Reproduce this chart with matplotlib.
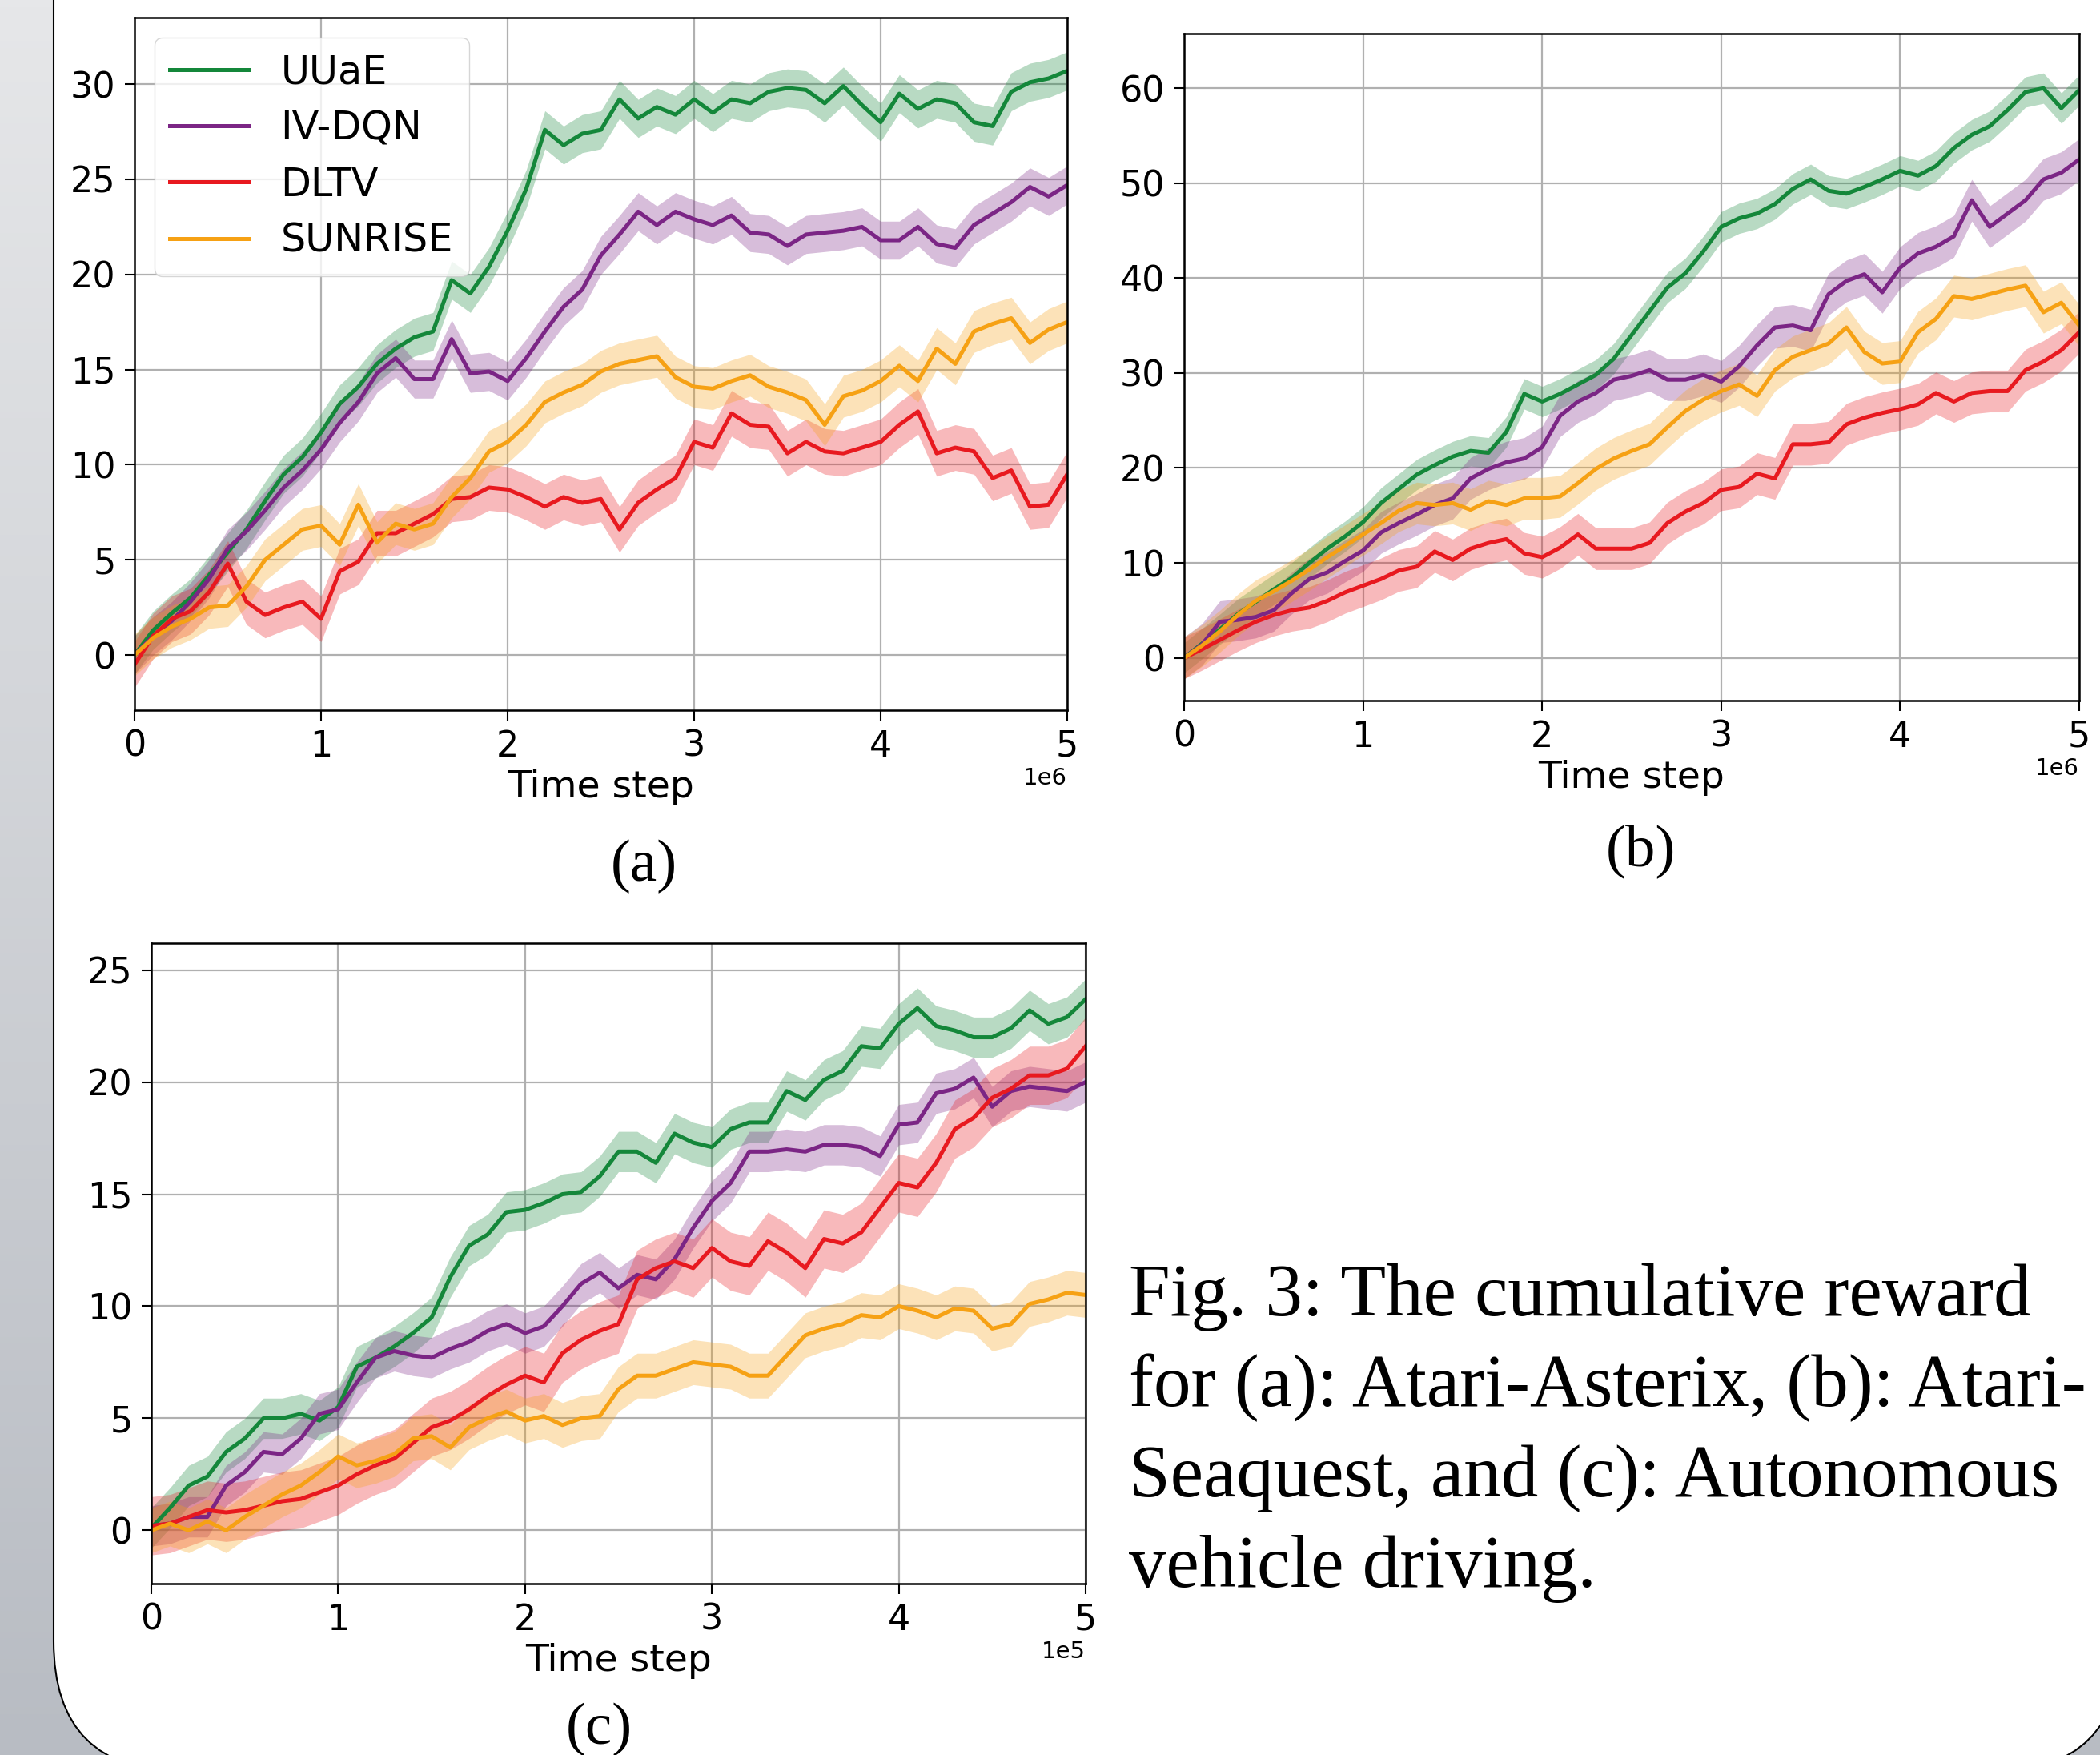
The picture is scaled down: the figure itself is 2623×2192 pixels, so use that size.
import numpy as np
import matplotlib
matplotlib.use("Agg")
import matplotlib.pyplot as plt
from matplotlib.patches import FancyBboxPatch
from matplotlib.colors import LinearSegmentedColormap

# ---------------- data ----------------
methods = ["UUaE", "IV-DQN", "DLTV", "SUNRISE"]
colors = ["#14873a", "#7b2585", "#e8191f", "#f6a114"]

steps_ab = np.linspace(0, 5e6, 51)
steps_c = np.linspace(0, 5e5, 51)

# (a) Atari-Asterix
uuae_a = [0.0, 1.3, 2.2, 3.0, 4.2, 5.4, 6.6, 8.1, 9.5, 10.4, 11.7, 13.2, 14.1, 15.3, 16.1, 16.7, 17.0,
          19.7, 19.0, 20.4, 22.3, 24.5, 27.6, 26.8, 27.4, 27.6, 29.2, 28.2, 28.8, 28.4, 29.2, 28.5, 29.2,
          29.0, 29.6, 29.8, 29.7, 29.0, 29.9, 28.9, 28.0, 29.5, 28.7, 29.2, 29.0, 28.0, 27.8, 29.6, 30.1,
          30.3, 30.7]
ivdqn_a = [0.0, 1.0, 1.8, 2.8, 4.0, 5.6, 6.5, 7.6, 8.8, 9.7, 10.8, 12.2, 13.3, 14.8, 15.6, 14.5, 14.5,
           16.6, 14.8, 14.9, 14.4, 15.6, 17.0, 18.3, 19.2, 21.0, 22.1, 23.3, 22.6, 23.3, 22.9, 22.6, 23.1,
           22.2, 22.1, 21.5, 22.1, 22.2, 22.3, 22.5, 21.8, 21.8, 22.5, 21.6, 21.4, 22.6, 23.2, 23.8, 24.6,
           24.1, 24.7]
dltv_a = [-0.5, 1.0, 1.9, 2.3, 3.3, 4.8, 2.8, 2.1, 2.5, 2.8, 1.9, 4.4, 4.9, 6.4, 6.4, 6.9, 7.4, 8.2,
          8.3, 8.8, 8.7, 8.3, 7.8, 8.3, 8.0, 8.2, 6.6, 8.0, 8.7, 9.3, 11.2, 10.9, 12.7, 12.1, 12.0, 10.6,
          11.2, 10.7, 10.6, 10.9, 11.2, 12.1, 12.8, 10.6, 10.9, 10.7, 9.3, 9.7, 7.8, 7.9, 9.5]
sunrise_a = [0.0, 0.9, 1.5, 1.9, 2.5, 2.6, 3.6, 5.0, 5.8, 6.6, 6.8, 5.8, 7.9, 5.9, 6.9, 6.6, 6.9, 8.3,
             9.3, 10.7, 11.2, 12.1, 13.3, 13.8, 14.2, 14.9, 15.3, 15.5, 15.7, 14.6, 14.1, 14.0, 14.4,
             14.7, 14.1, 13.8, 13.4, 12.1, 13.6, 13.9, 14.4, 15.2, 14.4, 16.1, 15.3, 17.0, 17.4, 17.7,
             16.4, 17.1, 17.5]
band_a = [1.0, 1.0, 1.2, 1.1]

# (b) Atari-Seaquest
uuae_b = [0.0, 1.5, 3.0, 4.6, 5.9, 7.2, 8.4, 10.0, 11.5, 12.8, 14.3, 16.3, 17.8, 19.3, 20.3, 21.2,
          21.8, 21.6, 23.8, 27.8, 27.0, 27.8, 28.8, 29.8, 31.5, 34.0, 36.5, 39.0, 40.5, 42.8, 45.4,
          46.3, 46.8, 47.8, 49.4, 50.4, 49.2, 48.9, 49.6, 50.4, 51.3, 50.8, 51.8, 53.7, 55.1, 56.0,
          57.7, 59.6, 60.0, 57.9, 59.8]
ivdqn_b = [0.0, 1.4, 3.8, 4.0, 4.3, 5.0, 6.8, 8.3, 9.0, 10.2, 11.3, 13.2, 14.2, 15.1, 16.1, 16.8,
           18.9, 19.9, 20.6, 21.0, 22.2, 25.5, 27.0, 27.9, 29.3, 29.7, 30.3, 29.3, 29.3, 29.8, 29.1,
           30.7, 32.9, 34.8, 35.0, 34.5, 38.3, 39.7, 40.4, 38.5, 41.1, 42.6, 43.3, 44.4, 48.2, 45.4,
           46.8, 48.2, 50.4, 51.1, 52.5]
dltv_b = [0.0, 0.9, 1.9, 2.9, 3.8, 4.5, 5.0, 5.3, 6.0, 6.9, 7.6, 8.3, 9.2, 9.6, 11.2, 10.3, 11.5,
          12.1, 12.5, 11.0, 10.6, 11.6, 13.0, 11.5, 11.5, 11.5, 12.1, 14.2, 15.4, 16.3, 17.7, 18.0,
          19.4, 18.9, 22.5, 22.5, 22.7, 24.6, 25.3, 25.8, 26.2, 26.7, 27.9, 27.0, 27.9, 28.1, 28.1,
          30.3, 31.2, 32.4, 34.3]
sunrise_b = [0.0, 1.3, 2.8, 4.5, 6.0, 7.0, 8.1, 9.3, 10.6, 11.8, 13.0, 14.2, 15.5, 16.3, 16.1, 16.3,
             15.6, 16.5, 16.1, 16.8, 16.8, 17.0, 18.4, 19.9, 21.0, 21.8, 22.5, 24.3, 26.0, 27.2, 28.1,
             28.8, 27.6, 30.3, 31.7, 32.4, 33.1, 34.8, 32.2, 31.0, 31.2, 34.3, 35.7, 38.1, 37.8, 38.3,
             38.8, 39.2, 36.4, 37.4, 35.0]
band_b = [1.6, 2.2, 2.2, 2.2]

# (c) Autonomous vehicle driving
uuae_c = [0.1, 1.0, 2.0, 2.4, 3.5, 4.1, 5.0, 5.0, 5.2, 4.9, 5.5, 7.3, 7.7, 8.2, 8.8, 9.5, 11.3, 12.7,
          13.2, 14.2, 14.3, 14.6, 15.0, 15.1, 15.8, 16.9, 16.9, 16.4, 17.7, 17.3, 17.1, 17.9, 18.2,
          18.2, 19.6, 19.2, 20.1, 20.5, 21.6, 21.5, 22.6, 23.3, 22.5, 22.3, 22.0, 22.0, 22.4, 23.2,
          22.6, 22.9, 23.7]
ivdqn_c = [0.2, 0.3, 0.6, 0.6, 2.0, 2.6, 3.5, 3.4, 4.1, 5.2, 5.4, 6.6, 7.7, 8.0, 7.8, 7.7, 8.1, 8.4,
           8.9, 9.2, 8.8, 9.1, 10.0, 11.0, 11.5, 10.8, 11.4, 11.2, 12.1, 13.5, 14.7, 15.5, 16.9, 16.9,
           17.0, 16.9, 17.2, 17.2, 17.1, 16.7, 18.1, 18.2, 19.5, 19.7, 20.2, 18.9, 19.6, 19.8, 19.7,
           19.6, 20.0]
dltv_c = [0.2, 0.3, 0.6, 0.9, 0.8, 0.9, 1.1, 1.3, 1.4, 1.7, 2.0, 2.5, 2.9, 3.2, 3.9, 4.6, 4.9, 5.4,
          6.0, 6.5, 6.9, 6.6, 7.9, 8.5, 8.9, 9.2, 11.2, 11.7, 12.0, 11.7, 12.6, 12.0, 11.8, 12.9, 12.4,
          11.7, 13.0, 12.8, 13.3, 14.4, 15.5, 15.3, 16.4, 17.9, 18.4, 19.3, 19.7, 20.3, 20.3, 20.6,
          21.6]
sunrise_c = [0.0, 0.3, 0.0, 0.4, 0.0, 0.6, 1.1, 1.6, 2.0, 2.6, 3.3, 2.9, 3.1, 3.4, 4.1, 4.2, 3.7,
             4.6, 5.0, 5.3, 4.9, 5.1, 4.7, 5.0, 5.1, 6.3, 6.9, 6.9, 7.2, 7.5, 7.4, 7.3, 6.9, 6.9, 7.8,
             8.7, 9.0, 9.2, 9.6, 9.5, 10.0, 9.8, 9.5, 9.9, 9.8, 9.0, 9.2, 10.1, 10.3, 10.6, 10.5]
band_c = [0.9, 0.9, 1.3, 1.0]

yticks_a = [0, 5, 10, 15, 20, 25, 30]
yticks_b = [0, 10, 20, 30, 40, 50, 60]
yticks_c = [0, 5, 10, 15, 20, 25]

caption = ["Fig. 3: The cumulative reward",
           "for (a): Atari-Asterix, (b): Atari-",
           "Seaquest, and (c): Autonomous",
           "vehicle driving."]

# ---------------- figure ----------------
W, H = 2623, 2192
fig = plt.figure(figsize=(W / 100, H / 100), dpi=100)

bg = fig.add_axes([0, 0, 1, 1], zorder=-5)
cmap = LinearSegmentedColormap.from_list("bg", ["#e6e7e9", "#b8bcc3"])
bg.imshow(np.linspace(0, 1, 256).reshape(-1, 1), aspect="auto", cmap=cmap,
          extent=[0, W, H, 0], zorder=0)
panel = FancyBboxPatch((67, -400), 2650 - 67, 2213 + 400,
                       boxstyle="round,pad=0,rounding_size=163",
                       fc="white", ec="black", lw=1.5, zorder=1)
bg.add_patch(panel)
bg.set_xlim(0, W)
bg.set_ylim(H, 0)
bg.axis("off")


def px_axes(x0, y0, x1, y1):
    return fig.add_axes([x0 / W, 1 - y1 / H, (x1 - x0) / W, (y1 - y0) / H])


ax_a = px_axes(168, 22, 1333, 887)
ax_b = px_axes(1479, 42, 2597, 875)
ax_c = px_axes(189, 1178, 1356, 1978)

panels = [
    (ax_a, steps_ab, [uuae_a, ivdqn_a, dltv_a, sunrise_a], band_a, (-2.9, 33.5), yticks_a),
    (ax_b, steps_ab, [uuae_b, ivdqn_b, dltv_b, sunrise_b], band_b, (-4.5, 65.75), yticks_b),
    (ax_c, steps_c, [uuae_c, ivdqn_c, dltv_c, sunrise_c], band_c, (-2.38, 26.2), yticks_c),
]

for ax, x, series, bands, ylim, yt in panels:
    for s, b, c, name in zip(series, bands, colors, methods):
        s = np.asarray(s)
        ax.fill_between(x, s - b, s + b, color=c, alpha=0.3, lw=0)
        ax.plot(x, s, color=c, lw=3.6, label=name)
    ax.set_xlim(0, x[-1])
    ax.set_ylim(*ylim)
    ax.set_yticks(yt)
    ax.ticklabel_format(axis="x", style="sci", scilimits=(0, 0))
    ax.grid(True, color="#b0b0b0", lw=1.6)
    ax.set_axisbelow(True)
    ax.set_xlabel("Time step", fontsize=34, labelpad=5)
    ax.tick_params(labelsize=32, length=9, width=1.5, pad=8)
    ax.xaxis.get_offset_text().set_fontsize(21)
    for sp in ax.spines.values():
        sp.set_linewidth(1.8)

ax_a.legend(loc="upper left", fontsize=35.5, framealpha=0.8, edgecolor="#cccccc",
            borderaxespad=0.5, labelspacing=0.45)

serif = ["Liberation Serif", "DejaVu Serif"]
fig.text(804 / W, 1 - 1082 / H, "(a)", family=serif, fontsize=54, ha="center", va="center")
fig.text(2049 / W, 1 - 1063 / H, "(b)", family=serif, fontsize=54, ha="center", va="center")
fig.text(748 / W, 1 - 2160 / H, "(c)", family=serif, fontsize=54, ha="center", va="center")

for i, line in enumerate(caption):
    fig.text(1410 / W, 1 - (1643 + 113 * i) / H, line, family=serif, fontsize=67,
             ha="left", va="baseline")

fig.savefig("out.png", dpi=100)
